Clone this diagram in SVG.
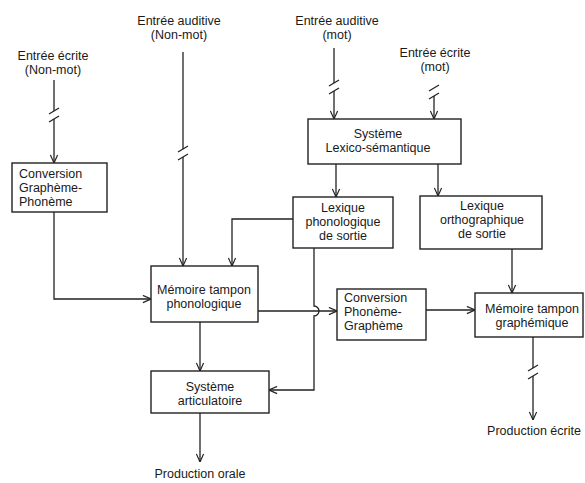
<svg xmlns="http://www.w3.org/2000/svg" width="585" height="483" viewBox="0 0 585 483">
<style>
rect.box{fill:#fff;stroke:#222;stroke-width:1.4}
.c path{fill:none;stroke:#222;stroke-width:1.3}
text{font-family:"Liberation Sans",Arial,sans-serif;font-size:12.5px;fill:#1a1a1a}
.m{text-anchor:middle}
</style>
<defs>
<marker id="a" viewBox="0 0 10 10" refX="10" refY="5" markerWidth="9" markerHeight="9" markerUnits="userSpaceOnUse" orient="auto">
<path d="M1,1 L10,5 L1,9" fill="none" stroke="#222" stroke-width="1.3"/>
</marker>
</defs>
<rect width="585" height="483" fill="#fff"/>
<g id="labels">
<text class="m" x="53" y="59.5">Entrée écrite<tspan x="53" dy="14">(Non-mot)</tspan></text>
<text class="m" x="179" y="24.5">Entrée auditive<tspan x="179" dy="14">(Non-mot)</tspan></text>
<text class="m" x="337" y="24.5">Entrée auditive<tspan x="337" dy="14">(mot)</tspan></text>
<text class="m" x="435" y="56.5">Entrée écrite<tspan x="435" dy="14">(mot)</tspan></text>
<text class="m" x="200" y="478">Production orale</text>
<text class="m" x="534" y="435">Production écrite</text>
</g>
<g class="c" id="connectors">
<path d="M54,80 V111"/><path d="M49,114 L59,108"/><path d="M49,122 L59,116"/>
<path d="M54,119 V163" marker-end="url(#a)"/>
<path d="M183,52 V149"/><path d="M178,152 L188,146"/><path d="M178,160 L188,154"/>
<path d="M183,157 V266" marker-end="url(#a)"/>
<path d="M334,48 V83"/><path d="M329,86 L339,80"/><path d="M329,94 L339,88"/>
<path d="M334,91 V119" marker-end="url(#a)"/>
<path d="M429,91 L439,85"/><path d="M429,99 L439,93"/>
<path d="M434,96 V119" marker-end="url(#a)"/>
<path d="M336,164 V197" marker-end="url(#a)"/>
<path d="M438,164 V196" marker-end="url(#a)"/>
<path d="M54,212 V299 H151" marker-end="url(#a)"/>
<path d="M293,219 H232 V266" marker-end="url(#a)"/>
<path d="M314,248 V306 A5,5 0 0 1 314,316 V390 H269" marker-end="url(#a)"/>
<path d="M258,311 H337" marker-end="url(#a)"/>
<path d="M200,322 V371" marker-end="url(#a)"/>
<path d="M200,413 V462" marker-end="url(#a)"/>
<path d="M426,310 H475" marker-end="url(#a)"/>
<path d="M512,249 V293" marker-end="url(#a)"/>
<path d="M533,337 V368"/><path d="M528,371 L538,365"/><path d="M528,379 L538,373"/>
<path d="M533,376 V420" marker-end="url(#a)"/>
</g>
<g id="conv-gp">
<rect class="box" x="12" y="163" width="95" height="49"/>
<text x="19" y="178">Conversion<tspan x="19" dy="14">Graphème-</tspan><tspan x="19" dy="14">Phonème</tspan></text>
</g>
<g id="memoire-phon">
<rect class="box" x="151" y="266" width="107" height="56"/>
<text class="m" x="204" y="293.5">Mémoire tampon<tspan x="204" dy="14">phonologique</tspan></text>
</g>
<g id="systeme-art">
<rect class="box" x="151" y="371" width="118" height="42"/>
<text class="m" x="210" y="391">Système<tspan x="210" dy="14">articulatoire</tspan></text>
</g>
<g id="systeme-ls">
<rect class="box" x="308" y="119" width="153" height="45"/>
<text class="m" x="378" y="138">Système<tspan x="378" dy="14">Lexico-sémantique</tspan></text>
</g>
<g id="lex-phon">
<rect class="box" x="293" y="197" width="100" height="51"/>
<text class="m" x="343" y="211.5">Lexique<tspan x="343" dy="14">phonologique</tspan><tspan x="343" dy="14">de sortie</tspan></text>
</g>
<g id="lex-ortho">
<rect class="box" x="420" y="196" width="122" height="53"/>
<text class="m" x="482" y="209.5">Lexique<tspan x="482" dy="14">orthographique</tspan><tspan x="482" dy="14">de sortie</tspan></text>
</g>
<g id="conv-pg">
<rect class="box" x="337" y="289" width="89" height="51"/>
<text x="344" y="301.5">Conversion<tspan x="344" dy="14">Phonème-</tspan><tspan x="344" dy="14">Graphème</tspan></text>
</g>
<g id="memoire-graph">
<rect class="box" x="475" y="293" width="108" height="44"/>
<text class="m" x="532" y="312.5">Mémoire tampon<tspan x="532" dy="14">graphémique</tspan></text>
</g>
</svg>
